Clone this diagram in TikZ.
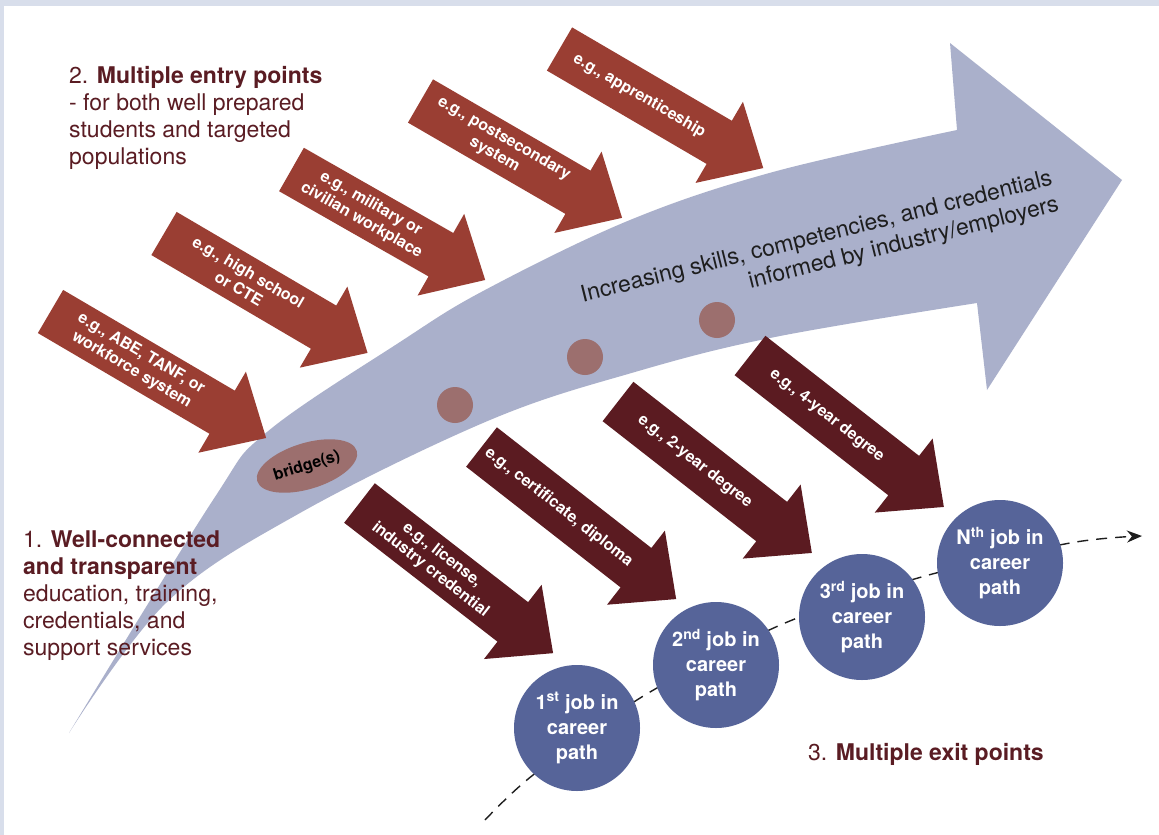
\documentclass[tikz,border=0pt]{standalone}
\usepackage{fontspec}
\setmainfont{TeX Gyre Heros}
\usetikzlibrary{shapes.geometric,arrows.meta}
\definecolor{bordercol}{HTML}{D8DEEB}
\definecolor{entryred}{HTML}{9A3E33}
\definecolor{exitdark}{HTML}{5B1B21}
\definecolor{bandcol}{HTML}{AAB0CB}
\definecolor{dotcol}{HTML}{9C6F6E}
\definecolor{jobcol}{HTML}{566499}
\definecolor{labelcol}{HTML}{5A1C23}
\definecolor{inktext}{HTML}{1E1E1E}
\tikzset{
  arrtext/.style={text=white, font=\bfseries\fontsize{16}{19}\selectfont, align=center, inner sep=0pt},
  jobnode/.style={circle, fill=jobcol, minimum size=126pt, inner sep=0pt, text=white,
    font=\bfseries\fontsize{20}{25}\selectfont, align=center},
  dotnode/.style={circle, fill=dotcol, minimum size=36pt, inner sep=0pt},
  lbl/.style={text=labelcol, font=\fontsize{23}{27}\selectfont, align=left, inner sep=0pt},
  dashline/.style={draw=inktext, line width=1.4pt, dash pattern=on 11pt off 8pt,
    -{Stealth[length=15pt,width=12pt]}},
}
% #1 x, #2 y (tail centre), #3 angle, #4 length, #5 colour, #6 name, #7 text
\newcommand{\blockarr}[7]{%
  \begin{scope}[shift={(#1,#2)},rotate=-#3]
    \fill[#5] (0,-25) -- ({#4-51},-25) -- ({#4-51},-47) -- (#4,0) -- ({#4-51},47)
      -- ({#4-51},25) -- (0,25) -- cycle;
    \node[arrtext,transform shape] (#6) at ({(#4-51)/2},0) {#7};
  \end{scope}}
\begin{document}
\begin{tikzpicture}[x=1pt,y=-1pt]
\useasboundingbox (0,0) rectangle (1159,835);
\fill[bordercol] (0,0) rectangle (1159,835);
\fill[white] (4,6) rectangle (1159,835);

% big curved arrow
\fill[bandcol] plot[smooth,tension=0.6] coordinates {(69,733) (213,500) (267,432) (400,342) (485,290) (630,220) (773,172) (957,130)}
  -- (950,43) -- (1122,180) -- (987,390) -- (977,303)
  -- plot[smooth,tension=0.6] coordinates {(977,303) (775,337) (635,372) (490,420) (300,513) (167,602) (69,733)} -- cycle;

\node[rotate=14, text=inktext, font=\fontsize{23}{27}\selectfont, align=right, inner sep=0pt] (band) at (820,251)
  {Increasing skills, competencies, and credentials\\informed by industry/employers};

% bridge and dots
\node[ellipse, fill=dotcol, minimum width=104pt, minimum height=46pt, inner sep=0pt, rotate=17,
  font=\bfseries\fontsize{16}{18}\selectfont] (bridge) at (307,466) {bridge(s)};
\node[dotnode] (dot1) at (455,405) {};
\node[dotnode] (dot2) at (585,357) {};
\node[dotnode] (dot3) at (717,320) {};

% exit arrows
\blockarr{359.5}{503}{37.8}{245}{exitdark}{ex1}{e.g., license,\\industry credential}
\blockarr{481.5}{447}{38}{247}{exitdark}{ex2}{e.g., certificate, diploma}
\blockarr{618}{401.5}{38}{246}{exitdark}{ex3}{e.g., 2-year degree}
\blockarr{750}{355.5}{38}{246}{exitdark}{ex4}{e.g., 4-year degree}

% entry arrows
\blockarr{50.5}{311.5}{30.4}{250}{entryred}{en1}{e.g., ABE, TANF, or\\workforce system}
\blockarr{164}{233.5}{30.4}{236}{entryred}{en2}{e.g., high school\\or CTE}
\blockarr{291.5}{169.5}{29.7}{223}{entryred}{en3}{e.g., military or\\civilian workplace}
\blockarr{420.5}{101}{30.1}{233}{entryred}{en4}{e.g., postsecondary\\system}
\blockarr{559.5}{49}{30.3}{236}{entryred}{en5}{e.g., apprenticeship}

% career path
\coordinate (p0) at (485,820);
\coordinate (p1) at (533,775);
\coordinate (p2) at (645,695);
\coordinate (p3) at (785,623);
\coordinate (p4) at (925,576);
\coordinate (p5) at (1070,543);
\coordinate (p6) at (1142,536);
\draw[dashline] plot[smooth] coordinates {(p0) (p1) (p2) (p3) (p4) (p5) (p6)};

\node[jobnode] (job1) at (577,728) {1\textsuperscript{st} job in\\career\\path};
\node[jobnode] (job2) at (716,665) {2\textsuperscript{nd} job in\\career\\path};
\node[jobnode] (job3) at (862,617) {3\textsuperscript{rd} job in\\career\\path};
\node[jobnode] (job4) at (1000,563) {N\textsuperscript{th} job in\\career\\path};

% labels
\node[lbl, anchor=north west] (lab2) at (69,66.5)
  {2. \textbf{Multiple entry points}\\- for both well prepared\\students and targeted\\populations};
\node[lbl, anchor=north west] (lab1) at (23,530.5)
  {1. \textbf{Well-connected}\\\textbf{and transparent}\\education, training,\\credentials, and\\support services};
\node[lbl, anchor=base west] (lab3) at (808,760) {3. \textbf{Multiple exit points}};
\end{tikzpicture}
\end{document}
